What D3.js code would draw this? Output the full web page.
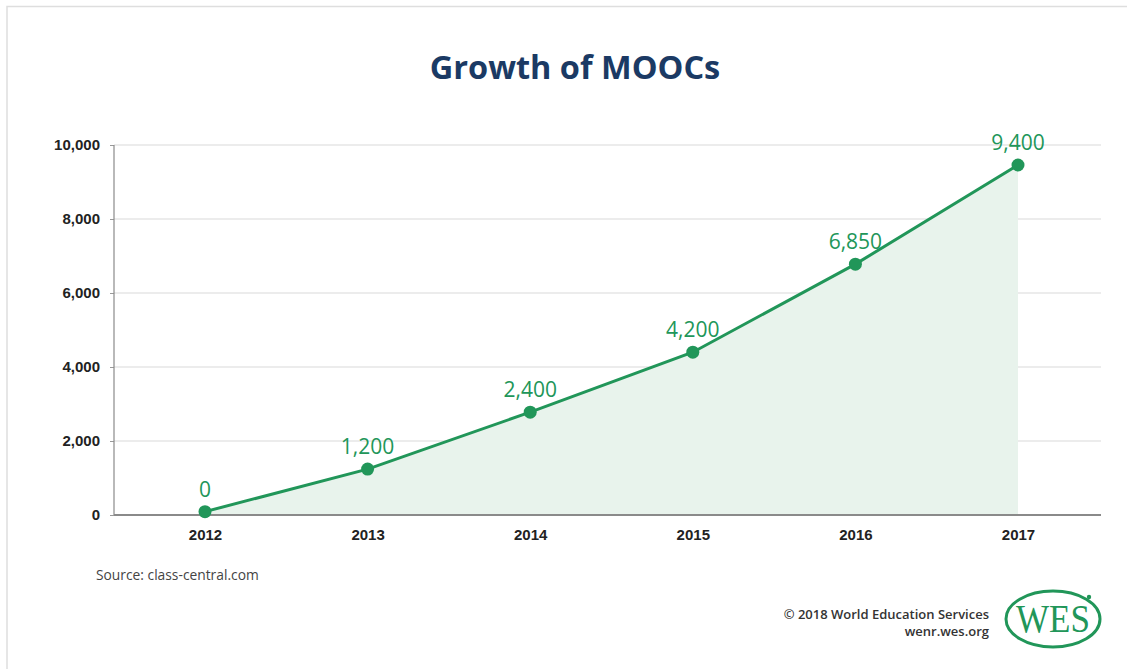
<!DOCTYPE html>
<html>
<head>
<meta charset="utf-8">
<script src="https://cdn.jsdelivr.net/npm/d3@7"></script>
<style>
  body { margin: 0; background: #fff; }
  svg { display: block; font-family: "Open Sans", "DejaVu Sans", sans-serif; }
  .y-axis .domain { display: none; }
  .y-axis text, .x-axis text { font-size: 15px; fill: #222; font-weight: 600; }
</style>
</head>
<body>
<svg width="1133" height="669"></svg>
<script>
// Chart data
const years = ["2012", "2013", "2014", "2015", "2016", "2017"];
const moocs = [90, 1240, 2780, 4400, 6780, 9460];           // plotted positions
const moocLabels = ["0", "1,200", "2,400", "4,200", "6,850", "9,400"]; // printed labels
const yTicks = [0, 2000, 4000, 6000, 8000, 10000];

const svg = d3.select("svg");
const width = +svg.attr("width");
const height = +svg.attr("height");
const margin = { top: 145, right: 32, bottom: 154, left: 114 };
const green = "#219659";

// light frame (top and left edge only)
svg.append("path")
    .attr("d", `M7,${height} V6.5 H1127`)
    .attr("fill", "none")
    .attr("stroke", "#dedede")
    .attr("stroke-width", 1.5);

const x = d3.scalePoint()
    .domain(years)
    .range([205, 1018]);

const y = d3.scaleLinear()
    .domain([0, 10000])
    .range([height - margin.bottom, margin.top]);

const data = years.map((yr, i) => ({ year: yr, value: moocs[i], label: moocLabels[i] }));

// gridlines
svg.append("g")
    .selectAll("line")
    .data(yTicks.filter(d => d > 0))
    .join("line")
    .attr("x1", margin.left)
    .attr("x2", width - margin.right)
    .attr("y1", d => y(d))
    .attr("y2", d => y(d))
    .attr("stroke", "#e6e6e6")
    .attr("stroke-width", 1.5);

// area
svg.append("path")
    .datum(data)
    .attr("fill", "#e8f3ec")
    .attr("d", d3.area()
        .x(d => x(d.year))
        .y0(y(0))
        .y1(d => y(d.value)));

// y axis
const yAxis = svg.append("g")
    .attr("class", "y-axis")
    .attr("transform", `translate(${margin.left},0)`)
    .call(d3.axisLeft(y).tickValues(yTicks).tickSize(4).tickPadding(10).tickFormat(d3.format(",")));
yAxis.selectAll(".tick line").attr("stroke", "#999");

svg.append("line")
    .attr("x1", margin.left).attr("x2", margin.left)
    .attr("y1", y(10000)).attr("y2", y(0))
    .attr("stroke", "#8a8a8a")
    .attr("stroke-width", 1.2);

// baseline
svg.append("line")
    .attr("x1", margin.left).attr("x2", width - margin.right)
    .attr("y1", y(0)).attr("y2", y(0))
    .attr("stroke", "#8a8a8a")
    .attr("stroke-width", 2);

// x axis labels
const xAxis = svg.append("g")
    .attr("class", "x-axis")
    .attr("transform", `translate(0,${y(0)})`)
    .call(d3.axisBottom(x).tickSize(0).tickPadding(14));
xAxis.select(".domain").remove();

// line
svg.append("path")
    .datum(data)
    .attr("fill", "none")
    .attr("stroke", green)
    .attr("stroke-width", 3)
    .attr("d", d3.line()
        .x(d => x(d.year))
        .y(d => y(d.value)));

// points
svg.append("g")
    .selectAll("circle")
    .data(data)
    .join("circle")
    .attr("cx", d => x(d.year))
    .attr("cy", d => y(d.value))
    .attr("r", 6.5)
    .attr("fill", green);

// value labels
svg.append("g")
    .selectAll("text")
    .data(data)
    .join("text")
    .attr("x", d => x(d.year))
    .attr("y", d => y(d.value) - 15)
    .attr("text-anchor", "middle")
    .attr("font-size", 21)
    .attr("fill", green)
    .text(d => d.label);

// title
svg.append("text")
    .attr("x", 575)
    .attr("y", 79)
    .attr("text-anchor", "middle")
    .attr("font-size", 32.5)
    .attr("font-weight", 700)
    .attr("fill", "#1b3a64")
    .text("Growth of MOOCs");

// source
svg.append("text")
    .attr("x", 96)
    .attr("y", 580)
    .attr("font-size", 13.8)
    .attr("fill", "#444")
    .text("Source: class-central.com");

// footer
const footer = svg.append("g")
    .attr("text-anchor", "end")
    .attr("font-size", 13)
    .attr("font-weight", 600)
    .attr("fill", "#333");
footer.append("text").attr("x", 989).attr("y", 619).text("© 2018 World Education Services");
footer.append("text").attr("x", 989).attr("y", 636).text("wenr.wes.org");

// logo
const logo = svg.append("g").attr("transform", "translate(1053,619)");
logo.append("ellipse")
    .attr("rx", 47).attr("ry", 28)
    .attr("fill", "none")
    .attr("stroke", green)
    .attr("stroke-width", 3);
logo.append("text")
    .attr("text-anchor", "middle")
    .attr("y", 13)
    .attr("font-family", "'Liberation Serif', 'DejaVu Serif', serif")
    .attr("font-size", 40)
    .attr("textLength", 74)
    .attr("lengthAdjust", "spacingAndGlyphs")
    .attr("fill", green)
    .text("WES");
logo.append("circle")
    .attr("cx", 36).attr("cy", -22)
    .attr("r", 2.2)
    .attr("fill", green);
</script>
</body>
</html>
